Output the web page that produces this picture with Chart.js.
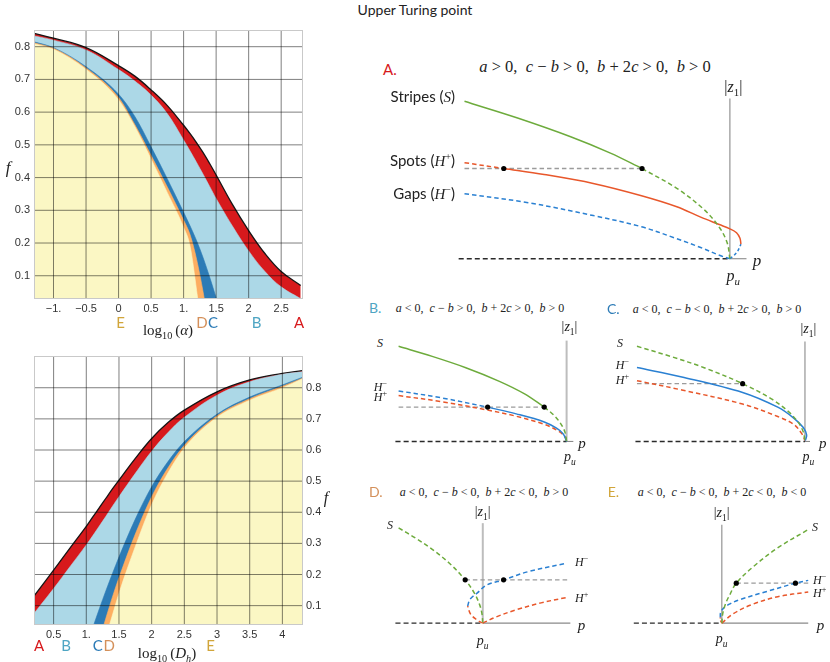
<!DOCTYPE html>
<html>
<head>
<meta charset="utf-8">
<script src="https://cdn.jsdelivr.net/npm/chart.js@4.4.1/dist/chart.umd.min.js"></script>
<style>
  html, body { margin: 0; padding: 0; background: #fff; }
  #wrap { position: relative; width: 830px; height: 662px; overflow: hidden; }
  canvas { position: absolute; }
  .t { position: absolute; white-space: nowrap; line-height: 1; color: #222; }
  .sans { font-family: Lato, "Open Sans", sans-serif; }
  .serif { font-family: "Liberation Serif", "DejaVu Serif", serif; }
  .serif i { font-style: italic; }
  sub, sup { font-size: 68%; line-height: 0; }
  .frame { position: absolute; border: 1px solid #c9c9c9; box-sizing: border-box; pointer-events: none; }
</style>
</head>
<body>
<div id="wrap"></div>
<script>
// ---- left top: f against log10(alpha) ----
const alphaX = [-1.3, -1, -0.5, 0, 0.25, 0.5, 0.75, 1, 1.1, 1.2, 1.3, 1.4, 1.5, 1.75, 2, 2.25, 2.5, 2.8];
const alphaA = [0.841, 0.826, 0.797, 0.742, 0.71, 0.668, 0.62, 0.56, 0.534, 0.506, 0.476, 0.443, 0.408, 0.318, 0.238, 0.168, 0.113, 0.07];
const alphaB = [0.833, 0.82, 0.79, 0.73, 0.695, 0.652, 0.595, 0.515, 0.481, 0.446, 0.41, 0.373, 0.336, 0.252, 0.176, 0.113, 0.066, 0.03];
const alphaC = [0.815, 0.797, 0.739, 0.655, 0.587, 0.494, 0.396, 0.294, 0.252, 0.207, 0.155, 0.096, 0.032, -0.15, -0.3, -0.45, -0.6, -0.8];
const alphaD = [0.812, 0.795, 0.735, 0.645, 0.562, 0.468, 0.371, 0.27, 0.225, 0.15, 0.05, -0.07, -0.2, -0.4, -0.55, -0.7, -0.85, -1];
const alphaE = [0.809, 0.792, 0.731, 0.638, 0.556, 0.457, 0.354, 0.248, 0.19, 0.055, -0.1, -0.25, -0.4, -0.6, -0.75, -0.9, -1, -1.1];
const alphaTicks = [-1, -0.5, 0, 0.5, 1, 1.5, 2, 2.5];
const alphaTickLabels = ['\u22121.', '\u22120.5', '0', '0.5', '1.', '1.5', '2', '2.5'];

// ---- left bottom: f against log10(Dh) ----
const dhX = [0.2, 0.5, 0.75, 1, 1.1, 1.2, 1.3, 1.4, 1.5, 1.75, 2, 2.25, 2.5, 3, 3.5, 4, 4.3];
const dhA = [0.131, 0.214, 0.285, 0.355, 0.385, 0.415, 0.445, 0.475, 0.503, 0.573, 0.637, 0.688, 0.728, 0.787, 0.825, 0.846, 0.855];
const dhB = [0.075, 0.155, 0.225, 0.295, 0.325, 0.356, 0.387, 0.419, 0.45, 0.525, 0.596, 0.656, 0.705, 0.776, 0.819, 0.843, 0.851];
const dhC = [-0.55, -0.35, -0.18, -0.03, 0.03, 0.09, 0.148, 0.203, 0.256, 0.378, 0.482, 0.563, 0.627, 0.715, 0.77, 0.809, 0.833];
const dhD = [-0.6, -0.4, -0.24, -0.15, -0.08, -0.01, 0.06, 0.128, 0.19, 0.33, 0.45, 0.543, 0.615, 0.71, 0.765, 0.805, 0.83];
const dhE = [-0.7, -0.5, -0.33, -0.21, -0.14, -0.07, 0.0, 0.07, 0.14, 0.29, 0.425, 0.527, 0.607, 0.705, 0.76, 0.8, 0.828];
const dhTicks = [0.5, 1, 1.5, 2, 2.5, 3, 3.5, 4];
const dhTickLabels = ['0.5', '1.', '1.5', '2', '2.5', '3', '3.5', '4'];

const fTicks = [0.1, 0.2, 0.3, 0.4, 0.5, 0.6, 0.7, 0.8];
const fTickLabels = ['0.1', '0.2', '0.3', '0.4', '0.5', '0.6', '0.7', '0.8'];

// ---- bifurcation sketches, points are [p, |z1|] ----
const aBase = [[-1.022, 0], [0, 0]];
const aAxisP = [[0, 0], [0.0625, 0]];
const aAxisZ = [[0, 0], [0, 1.018]];
const aStripesSolid = [[-1, 1], [-0.8, 0.894], [-0.6, 0.775], [-0.45, 0.671], [-0.331, 0.573]];
const aStripesDashed = [[-0.331, 0.573], [-0.2, 0.447], [-0.1, 0.316], [-0.04, 0.2], [-0.01, 0.1], [0, 0]];
const aSpotsDashed = [[-1, 0.61], [-0.852, 0.573]];
const aSpotsSolid = [[-0.852, 0.573], [-0.7, 0.535], [-0.515, 0.478], [-0.333, 0.4], [-0.2, 0.33], [-0.11, 0.264], [-0.04, 0.217], [0, 0.19], [0.025, 0.165], [0.038, 0.13], [0.0415, 0.093]];
const aGapsDashed = [[-1, 0.413], [-0.76, 0.356], [-0.515, 0.274], [-0.333, 0.203], [-0.208, 0.132], [-0.11, 0.071], [-0.037, 0.02], [0, 0]];
const aGapsFold = [[0, 0], [0.015, 0.02], [0.03, 0.05], [0.0415, 0.093]];
const aGuide = [[-1, 0.573], [-0.331, 0.573]];
const aDots = [[-0.852, 0.573], [-0.331, 0.573]];

const bBase = [[-1.019, 0], [0, 0]];
const bAxisP = [[0, 0], [0.04, 0]];
const bAxisZ = [[0, 0], [0, 1.06]];
const bStripesSolid = [[-1, 1], [-0.8, 0.894], [-0.6, 0.775], [-0.4, 0.632], [-0.25, 0.5], [-0.133, 0.361]];
const bStripesDashed = [[-0.133, 0.361], [-0.08, 0.283], [-0.04, 0.2], [-0.01, 0.1], [0, 0]];
const bGapsDashed = [[-1, 0.531], [-0.75, 0.46], [-0.47, 0.361]];
const bGapsSolid = [[-0.47, 0.361], [-0.3, 0.29], [-0.133, 0.205], [-0.06, 0.14], [-0.02, 0.08], [0, 0]];
const bSpotsDashed = [[-1, 0.482], [-0.75, 0.42], [-0.47, 0.33], [-0.3, 0.265], [-0.133, 0.18], [-0.05, 0.11], [-0.01, 0.05], [0, 0]];
const bGuide = [[-1, 0.361], [-0.133, 0.361]];
const bDots = [[-0.47, 0.361], [-0.133, 0.361]];

const cBase = [[-1.009, 0], [0, 0]];
const cAxisP = [[0, 0], [0.03, 0]];
const cAxisZ = [[0, 0], [0, 1.05]];
const cStripesDashed = [[-1, 1], [-0.8, 0.894], [-0.6, 0.775], [-0.371, 0.607], [-0.2, 0.447], [-0.1, 0.316], [-0.04, 0.2], [-0.01, 0.1], [0, 0]];
const cGapsSolid = [[-1, 0.777], [-0.733, 0.678], [-0.371, 0.515], [-0.162, 0.36], [-0.067, 0.246], [-0.01, 0.147], [0.01, 0.066], [0.002, 0.01]];
const cSpotsDashed = [[-1, 0.639], [-0.733, 0.541], [-0.371, 0.393], [-0.162, 0.262], [-0.067, 0.18], [-0.019, 0.082], [0, 0.01]];
const cGuide = [[-1, 0.607], [-0.371, 0.607]];
const cDots = [[-0.371, 0.607]];

const dBase = [[-1.038, 0], [0, 0]];
const dAxisP = [[0, 0], [1.04, 0]];
const dAxisZ = [[0, 0], [0, 1.05]];
const dStripesDashed = [[-1, 1], [-0.8, 0.894], [-0.6, 0.775], [-0.4, 0.632], [-0.209, 0.455], [-0.1, 0.316], [-0.04, 0.2], [-0.01, 0.1], [0, 0]];
const dSpotsFold = [[0, 0], [-0.07, 0.035], [-0.145, 0.095], [-0.18, 0.18]];
const dSpotsDashed = [[0, 0], [0.16, 0.066], [0.388, 0.138], [0.692, 0.213], [0.995, 0.27]];
const dGapsDashed = [[-0.18, 0.18], [-0.152, 0.25], [-0.068, 0.315], [0.046, 0.4], [0.247, 0.455], [0.54, 0.541], [0.995, 0.629]];
const dGuide = [[-0.209, 0.455], [1.015, 0.455]];
const dDots = [[-0.209, 0.455], [0.247, 0.455]];

const eBase = [[-1.019, 0], [0, 0]];
const eAxisP = [[0, 0], [1.0, 0]];
const eAxisZ = [[0, 0], [0, 1.05]];
const eStripesDashed = [[0, 0], [0.01, 0.1], [0.04, 0.2], [0.09, 0.3], [0.167, 0.427], [0.36, 0.6], [0.64, 0.8], [1, 1]];
const eSpotsFold = [[0, 0], [-0.015, 0.03], [-0.018, 0.06]];
const eSpotsDashed = [[0, 0], [0.13, 0.1], [0.352, 0.2], [0.648, 0.283], [1, 0.333]];
const eGapsDashed = [[-0.018, 0.06], [-0.015, 0.11], [0.015, 0.155], [0.08, 0.2], [0.204, 0.25], [0.5, 0.333], [0.852, 0.427], [1, 0.457]];
const eGuide = [[0.167, 0.427], [1, 0.427]];
const eDots = [[0.167, 0.427], [0.852, 0.427]];

// colours
const RED = '#d7191c', LBLUE = '#acd8e7', DBLUE = '#2c7bb6', ORANGE = '#fdae61', YELLOW = '#fbf7c4';
const GREEN = '#6dab3c', SPOT = '#e8572b', GAP = '#2a80d2', GUIDE = '#9b9b9b';
const LETTER = { A: '#d7191c', B: '#4ea5c3', C: '#2c7bb6', D: '#d4905a', E: '#d1a53a' };

const wrap = document.getElementById('wrap');

function makeCanvas(left, top, w, h) {
  const c = document.createElement('canvas');
  c.width = w; c.height = h;
  c.style.left = left + 'px'; c.style.top = top + 'px';
  c.style.width = w + 'px'; c.style.height = h + 'px';
  wrap.appendChild(c);
  return c;
}

function put(html, x, y, anchor, cls, style) {
  const d = document.createElement('div');
  d.className = 't ' + cls;
  d.innerHTML = html;
  d.style.left = x + 'px';
  d.style.top = y + 'px';
  const tx = anchor === 'c' ? '-50%' : anchor === 'r' ? '-100%' : '0';
  d.style.transform = 'translate(' + tx + ',-50%)';
  if (style) d.style.cssText += style;
  wrap.appendChild(d);
}

function frame(l, t, r, b) {
  const d = document.createElement('div');
  d.className = 'frame';
  d.style.left = l + 'px'; d.style.top = t + 'px';
  d.style.width = (r - l + 1) + 'px'; d.style.height = (b - t + 1) + 'px';
  wrap.appendChild(d);
}

function band(xs, ys, color, smooth) {
  const ds = {
    data: xs.map((x, i) => ({ x: x, y: ys[i] })),
    fill: 'start',
    backgroundColor: color,
    borderColor: color,
    borderWidth: 0.6,
    pointRadius: 0,
    order: 1
  };
  if (smooth) ds.tension = 0.4; else ds.cubicInterpolationMode = 'monotone';
  return ds;
}

// grid lines as line datasets at the tick values, drawn over the filled regions
function gridLines(xTicks, yTicks, xr, yr) {
  const mk = pts => ({
    data: pts, fill: false, borderColor: 'rgba(0,0,0,0.5)', borderWidth: 1,
    pointRadius: 0, tension: 0, order: 0
  });
  return xTicks.map(t => mk([{ x: t, y: yr[0] }, { x: t, y: yr[1] }]))
    .concat(yTicks.map(t => mk([{ x: xr[0], y: t }, { x: xr[1], y: t }])));
}

const tickFont = { family: '"Liberation Sans", Arial, sans-serif', size: 11 };

function scaleOpts(values, labels, range, size, isY, pos) {
  const o = {
    type: 'linear', min: range[0], max: range[1],
    afterBuildTicks: s => { s.ticks = values.map(v => ({ value: v })); },
    afterFit: s => { if (isY) s.width = size; else s.height = size; },
    ticks: { padding: 4, font: tickFont, color: '#333', autoSkip: false,
             maxRotation: 0, callback: (v, i) => labels[i] },
    grid: { display: false, drawTicks: false },
    border: { display: false }
  };
  if (pos) o.position = pos;
  return o;
}

function regionChart(left, top, w, h, xs, ys, xr, yr, xTicks, xLabels, yPos, pad, xH, yW) {
  new Chart(makeCanvas(left, top, w, h), {
    type: 'line',
    data: {
      datasets: gridLines(xTicks, fTicks, xr, yr).concat([
        band(xs, ys[4], YELLOW),
        band(xs, ys[3], ORANGE),
        band(xs, ys[2], DBLUE),
        band(xs, ys[1], LBLUE, true),
        Object.assign(band(xs, ys[0], RED, true), { borderColor: '#151515', borderWidth: 1.3 })
      ])
    },
    options: {
      responsive: false, animation: false, events: [],
      layout: { padding: pad },
      plugins: { legend: { display: false }, tooltip: { enabled: false } },
      scales: {
        x: scaleOpts(xTicks, xLabels, xr, xH, false, null),
        y: scaleOpts(fTicks, fTickLabels, yr, yW, true, yPos)
      }
    }
  });
}

// left top panel
regionChart(0, 0, 320, 320, alphaX, [alphaA, alphaB, alphaC, alphaD, alphaE],
  [-1.3, 2.82], [0.032, 0.851], alphaTicks, alphaTickLabels, 'left',
  { top: 30, right: 18, left: 0, bottom: 0 }, 22, 34);
frame(34, 30, 302, 298);

// left bottom panel
regionChart(0, 340, 330, 310, dhX, [dhA, dhB, dhC, dhD, dhE],
  [0.2, 4.3], [0.041, 0.902], dhTicks, dhTickLabels, 'right',
  { top: 16, right: 0, left: 34, bottom: 0 }, 26, 28);
frame(34, 356, 302, 624);

// sketch frames: pixel of (p_u, 0), pixels per unit, canvas rect
const sketchFrames = {
  A: { ox: 733, oy: 262, ux: 272, uy: 164, rect: [440, 80, 330, 200] },
  B: { ox: 570, oy: 445, ux: 175, uy: 101.7, rect: [385, 328, 200, 124] },
  C: { ox: 808.3, oy: 445, ux: 175, uy: 101.7, rect: [625, 328, 200, 124] },
  D: { ox: 482.7, oy: 626.7, ux: 87.7, uy: 101.7, rect: [385, 508, 200, 126] },
  E: { ox: 721.7, oy: 626.7, ux: 90, uy: 100, rect: [625, 508, 200, 126] }
};

function sketch(key, layers) {
  const f = sketchFrames[key];
  const [L, T, W, H] = f.rect;
  const cv = makeCanvas(L, T, W, H);
  const datasets = layers.map(l => ({
    data: l.pts.map(p => ({ x: p[0], y: p[1] })),
    showLine: !l.dots,
    borderColor: l.color || '#000',
    borderWidth: l.w || 1.5,
    borderDash: l.dash || [],
    pointRadius: l.dots ? 2.6 : 0,
    pointBackgroundColor: '#000',
    pointBorderWidth: 0,
    tension: 0.35,
    fill: false,
    clip: false,
    order: l.order
  }));
  new Chart(cv, {
    type: 'scatter',
    data: { datasets: datasets },
    options: {
      responsive: false, animation: false, events: [],
      layout: { padding: 0 },
      plugins: { legend: { display: false }, tooltip: { enabled: false } },
      scales: {
        x: { type: 'linear', display: false, min: (L - f.ox) / f.ux, max: (L + W - f.ox) / f.ux },
        y: { type: 'linear', display: false, min: (f.oy - T - H) / f.uy, max: (f.oy - T) / f.uy }
      }
    }
  });
}

const DASH = [4.5, 3];
function axes(base, ap, az, light) {
  const ac = light ? '#bdbdbd' : '#8a8a8a';
  const aw = light ? 2 : 1.1;
  return [
    { pts: base, color: '#2a2a2a', dash: [5, 3], w: 1.4, order: 4 },
    { pts: ap, color: '#8a8a8a', w: 1.1, order: 4 },
    { pts: az, color: ac, w: aw, order: 4 }
  ];
}

sketch('A', axes(aBase, aAxisP, aAxisZ, false).concat([
  { pts: aGuide, color: GUIDE, dash: DASH, w: 1.3, order: 3 },
  { pts: aStripesSolid, color: GREEN, order: 1 },
  { pts: aStripesDashed, color: GREEN, dash: DASH, order: 1 },
  { pts: aSpotsDashed, color: SPOT, dash: DASH, order: 1 },
  { pts: aSpotsSolid, color: SPOT, order: 1 },
  { pts: aGapsDashed, color: GAP, dash: DASH, order: 2 },
  { pts: aGapsFold, color: GAP, dash: [3, 2.5], order: 2 },
  { pts: aDots, dots: true, order: 0 }
]));

sketch('B', axes(bBase, bAxisP, bAxisZ, true).concat([
  { pts: bGuide, color: GUIDE, dash: DASH, w: 1.3, order: 3 },
  { pts: bStripesSolid, color: GREEN, order: 1 },
  { pts: bStripesDashed, color: GREEN, dash: DASH, order: 1 },
  { pts: bSpotsDashed, color: SPOT, dash: DASH, order: 2 },
  { pts: bGapsDashed, color: GAP, dash: DASH, order: 1 },
  { pts: bGapsSolid, color: GAP, order: 1 },
  { pts: bDots, dots: true, order: 0 }
]));

sketch('C', axes(cBase, cAxisP, cAxisZ, false).concat([
  { pts: cGuide, color: GUIDE, dash: DASH, w: 1.3, order: 3 },
  { pts: cStripesDashed, color: GREEN, dash: DASH, order: 1 },
  { pts: cSpotsDashed, color: SPOT, dash: DASH, order: 2 },
  { pts: cGapsSolid, color: GAP, order: 1 },
  { pts: cDots, dots: true, order: 0 }
]));

sketch('D', axes(dBase, dAxisP, dAxisZ, true).concat([
  { pts: dGuide, color: GUIDE, dash: DASH, w: 1.3, order: 3 },
  { pts: dStripesDashed, color: GREEN, dash: DASH, order: 1 },
  { pts: dSpotsFold, color: SPOT, dash: DASH, order: 1 },
  { pts: dSpotsDashed, color: SPOT, dash: DASH, order: 1 },
  { pts: dGapsDashed, color: GAP, dash: DASH, order: 1 },
  { pts: dDots, dots: true, order: 0 }
]));

sketch('E', axes(eBase, eAxisP, eAxisZ, false).concat([
  { pts: eGuide, color: GUIDE, dash: DASH, w: 1.3, order: 3 },
  { pts: eStripesDashed, color: GREEN, dash: DASH, order: 1 },
  { pts: eSpotsFold, color: SPOT, dash: [3, 2], order: 1 },
  { pts: eSpotsDashed, color: SPOT, dash: DASH, order: 1 },
  { pts: eGapsDashed, color: GAP, dash: DASH, order: 1 },
  { pts: eDots, dots: true, order: 0 }
]));

// ---- text ----
put('Upper Turing point', 415, 10, 'c', 'sans', 'font-size:14px;');

// left top
put('<i>f</i>', 8, 167, 'c', 'serif', 'font-size:17px;');
put('log<sub>10</sub>&thinsp;(<i>\u03b1</i>)', 168, 330, 'c', 'serif', 'font-size:15px;');
put('E', 120.7, 322, 'c', 'sans', 'font-size:15px;color:' + LETTER.E);
put('D', 202, 322, 'c', 'sans', 'font-size:15px;color:' + LETTER.D);
put('C', 213, 322, 'c', 'sans', 'font-size:15px;color:' + LETTER.C);
put('B', 256.7, 322, 'c', 'sans', 'font-size:15px;color:' + LETTER.B);
put('A', 299, 322, 'c', 'sans', 'font-size:15px;color:' + LETTER.A);

// left bottom
put('<i>f</i>', 326, 498, 'c', 'serif', 'font-size:16px;');
put('log<sub>10</sub>&thinsp;(<i>D<sub>h</sub></i>)', 167, 653, 'c', 'serif', 'font-size:15px;');
put('A', 39, 645, 'c', 'sans', 'font-size:15px;color:' + LETTER.A);
put('B', 66, 645, 'c', 'sans', 'font-size:15px;color:' + LETTER.B);
put('C', 97.7, 645, 'c', 'sans', 'font-size:15px;color:' + LETTER.C);
put('D', 109.3, 645, 'c', 'sans', 'font-size:15px;color:' + LETTER.D);
put('E', 210.7, 645, 'c', 'sans', 'font-size:15px;color:' + LETTER.E);

function conds(s1, s2, s3, s4) {
  return '<i>a</i> ' + s1 + ' 0,&ensp;<i>c</i> \u2212 <i>b</i> ' + s2 + ' 0,&ensp;<i>b</i> + 2<i>c</i> ' + s3 +
         ' 0,&ensp;<i>b</i> ' + s4 + ' 0';
}
const Z1 = '|<i>z</i><sub>1</sub>|';
const PU = '<i>p<sub>u</sub></i>';
const HM = '<i>H</i><sup>\u2212</sup>';
const HP = '<i>H</i><sup>+</sup>';

// A
put('A.', 383, 69, 'l', 'sans', 'font-size:15px;color:' + LETTER.A);
put(conds('&gt;', '&gt;', '&gt;', '&gt;'), 595, 67, 'c', 'serif', 'font-size:16.5px;');
put('Stripes (<span class="serif"><i>S</i></span>)', 455, 97, 'r', 'sans', 'font-size:15px;');
put('Spots (<span class="serif">' + HP + '</span>)', 455, 161, 'r', 'sans', 'font-size:15px;');
put('Gaps (<span class="serif">' + HM + '</span>)', 455, 194, 'r', 'sans', 'font-size:15px;');
put(Z1, 733.3, 87, 'c', 'serif', 'font-size:16px;');
put('<i>p</i>', 757, 260, 'c', 'serif', 'font-size:17px;');
put(PU, 733.3, 276, 'c', 'serif', 'font-size:16px;');

// B
put('B.', 369, 308, 'l', 'sans', 'font-size:14px;color:' + LETTER.B);
put(conds('&lt;', '&gt;', '&gt;', '&gt;'), 480, 308, 'c', 'serif', 'font-size:12px;');
put('<i>S</i>', 383, 343, 'r', 'serif', 'font-size:12px;');
put(HM, 387, 387, 'r', 'serif', 'font-size:12px;');
put(HP, 387, 397, 'r', 'serif', 'font-size:12px;');
put(Z1, 569.5, 327, 'c', 'serif', 'font-size:14px;');
put(PU, 570, 457, 'c', 'serif', 'font-size:14px;');
put('<i>p</i>', 582, 443, 'c', 'serif', 'font-size:15px;');

// C
put('C.', 607, 309, 'l', 'sans', 'font-size:14px;color:' + LETTER.C);
put(conds('&lt;', '&lt;', '&gt;', '&gt;'), 717, 309, 'c', 'serif', 'font-size:12px;');
put('<i>S</i>', 623, 343, 'r', 'serif', 'font-size:12px;');
put(HM, 629, 365, 'r', 'serif', 'font-size:12px;');
put(HP, 629, 380, 'r', 'serif', 'font-size:12px;');
put(Z1, 808.3, 329, 'c', 'serif', 'font-size:14px;');
put(PU, 808.3, 457, 'c', 'serif', 'font-size:14px;');
put('<i>p</i>', 822.7, 443, 'c', 'serif', 'font-size:15px;');

// D
put('D.', 369, 492, 'l', 'sans', 'font-size:14px;color:' + LETTER.D);
put(conds('&lt;', '&lt;', '&lt;', '&gt;'), 484, 492, 'c', 'serif', 'font-size:12px;');
put('<i>S</i>', 393, 525, 'r', 'serif', 'font-size:12px;');
put(HM, 575, 561.7, 'l', 'serif', 'font-size:12px;');
put(HP, 575, 598.3, 'l', 'serif', 'font-size:12px;');
put(Z1, 482.7, 511.7, 'c', 'serif', 'font-size:14px;');
put(PU, 482.7, 640.7, 'c', 'serif', 'font-size:14px;');
put('<i>p</i>', 581.5, 625, 'c', 'serif', 'font-size:15px;');

// E
put('E.', 607.7, 492.3, 'l', 'sans', 'font-size:14px;color:' + LETTER.E);
put(conds('&lt;', '&lt;', '&lt;', '&lt;'), 722, 492, 'c', 'serif', 'font-size:12px;');
put('<i>S</i>', 812, 527, 'l', 'serif', 'font-size:12px;');
put(HM, 813, 580, 'l', 'serif', 'font-size:12px;');
put(HP, 813, 593, 'l', 'serif', 'font-size:12px;');
put(Z1, 721.7, 513, 'c', 'serif', 'font-size:14px;');
put(PU, 721.7, 639, 'c', 'serif', 'font-size:14px;');
put('<i>p</i>', 820.5, 625, 'c', 'serif', 'font-size:15px;');
</script>
</body>
</html>
